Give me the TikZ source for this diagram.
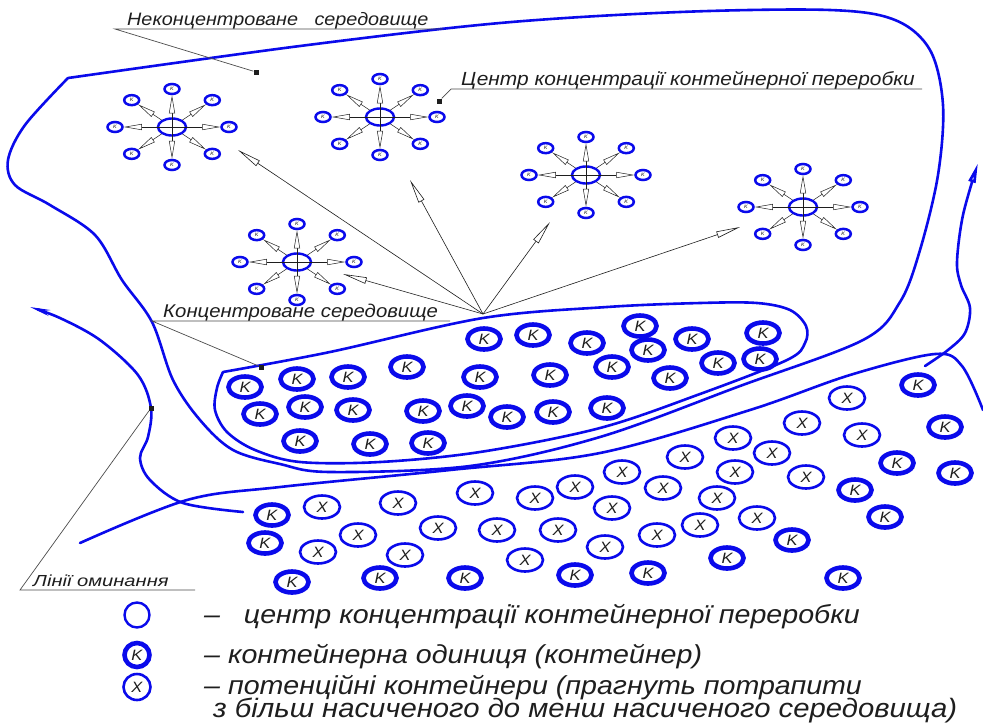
\documentclass[tikz,border=0pt]{standalone}
\usepackage{fontspec}
\setmainfont{Liberation Sans}
\newfontfamily\gost[FakeStretch=1.1]{Liberation Sans}
\newfontfamily\gostwide[FakeStretch=1.26]{Liberation Sans}
\usetikzlibrary{arrows.meta,shapes.geometric}
\definecolor{lineblue}{RGB}{10,10,235}
\definecolor{ink}{RGB}{30,30,30}
\begin{document}
\begin{tikzpicture}[x=1pt,y=-1pt,
  bnd/.style={draw=lineblue, line width=2.6pt, line join=round, line cap=round},
  kcell/.style={ellipse, draw=lineblue, line width=4.6pt, minimum width=33pt, minimum height=21pt, inner sep=0pt,
    font=\gost\itshape\fontsize{15}{15}\selectfont, text=ink},
  xcell/.style={ellipse, draw=lineblue, line width=2.6pt, minimum width=36pt, minimum height=23pt, inner sep=0pt,
    font=\gost\itshape\fontsize{15}{15}\selectfont, text=ink},
  hub/.style={ellipse, draw=lineblue, line width=2.4pt, minimum width=28pt, minimum height=17pt, inner sep=0pt},
  sat/.style={ellipse, draw=lineblue, line width=2.5pt, minimum width=15pt, minimum height=10pt, inner sep=0pt,
    font=\gost\itshape\fontsize{5}{5}\selectfont, text=ink},
  spoke/.style={draw=ink, line width=0.5pt, -{Triangle[open, length=18pt, width=6pt, fill=white]}},
  fan/.style={draw=ink, line width=0.6pt, -{Triangle[open, length=24pt, width=6.5pt, fill=white]}},
  lead/.style={draw=black!70, line width=0.7pt},
  sqmark/.style={rectangle, fill=ink, minimum size=5pt, inner sep=0pt},
  lbl/.style={font=\gost\itshape\fontsize{19}{22}\selectfont, text=ink, inner sep=0pt, anchor=base west},
  legend/.style={font=\gost\itshape\fontsize{26}{28}\selectfont, text=ink, inner sep=0pt, anchor=base west},
  concentrator/.pic={
    \node[hub] (-c) at (0,0) {};
    \foreach \a [count=\i] in {0,45,...,315}
      \node[sat] (-s\i) at ({57*cos(\a)},{38*sin(\a)}) {K};
    \foreach \i in {1,3,5,7} \draw[spoke] (-c.center) -- (-s\i);
    \foreach \i in {2,4,6,8} \draw[spoke] (-c) -- (-s\i);
  }]
\useasboundingbox (0,0) rectangle (983,724);
\fill[white] (0,0) rectangle (983,724);

% outer boundary of the non-concentrated environment
\draw[bnd] plot[smooth, tension=0.55] coordinates {
  (68,78) (300,46) (500,23) (680,12) (830,10) (895,20) (930,50) (943,105) (938,175)
  (920,250) (900,302) (863,340) (740,386) (600,437) (470,466) (330,472) (280,464)
  (233,450) (200,420) (173,380) (152,322) (122,280) (95,235) (50,205) (15,185)
  (8,160) (25,125) (68,78)};

% concentrated environment
\draw[bnd] plot[smooth, tension=0.55] coordinates {
  (223,372) (330,352) (483,318) (607,307) (700,303) (757,303) (790,310) (806,326)
  (805,343) (787,360) (700,394) (600,428) (480,452) (380,462) (300,462) (255,450)
  (227,432) (215,410) (217,388) (223,372)};

% lower boundary line
\draw[bnd] plot[smooth, tension=0.55] coordinates {
  (80,543) (187,500) (280,487) (450,470) (600,453) (750,410) (850,375) (935,354)
  (962,366) (983,410)};

% bypass lines
\coordinate (bypassL) at (151,408);
\draw[bnd, -{Stealth[length=20pt, width=6pt, fill=ink]}] plot[smooth, tension=0.55] coordinates {
  (243,512) (183,503) (150,480) (140,458) (148,437) (151,408) (138,375) (100,340)
  (60,318) (30,307)};
\draw[bnd, -{Triangle[open, length=20pt, width=7pt, fill=white]}] plot[smooth, tension=0.55] coordinates {
  (925,366) (948,350) (965,333) (970,308) (961,285) (957,262) (963,215) (978,163)};

% centres of container processing
\pic (st1) at (172,127) {concentrator};
\pic (st2) at (380,117) {concentrator};
\pic (st3) at (586,175) {concentrator};
\pic (st4) at (803,207) {concentrator};
\pic (st5) at (297,262) {concentrator};

% fan of arrows from the concentrated environment
\coordinate (apex) at (483,314);
\coordinate (f1) at (238,150);
\coordinate (f2) at (343,274);
\coordinate (f3) at (410,180);
\coordinate (f4) at (550,222);
\coordinate (f5) at (740,227);
\foreach \t in {f1,f2,f3,f4,f5} \draw[fan] (apex) -- (\t);

% containers in the concentrated environment
\foreach \x/\y [count=\i] in {484/339, 533/335, 587/343, 640/326, 648/350, 692/339, 763/333,
  760/359, 718/363, 245/387, 297/379, 348/377, 407/367, 480/377, 550/375, 612/367, 670/378,
  260/414, 305/407, 353/410, 423/411, 467/406, 507/417, 553/412, 607/408, 300/441, 370/444, 428/443}
  \node[kcell] (kin\i) at (\x,\y) {K};

% containers and potential containers in the lower environment
\foreach \x/\y [count=\i] in {272/515, 265/543, 292/582, 380/578, 465/578, 575/575, 648/573,
  727/558, 792/540, 843/578, 855/490, 885/517, 897/463, 918/385, 945/427, 955/473}
  \node[kcell] (kout\i) at (\x,\y) {K};
\foreach \x/\y [count=\i] in {322/507, 398/503, 475/493, 535/498, 575/487, 622/472, 612/508,
  358/535, 438/528, 497/530, 558/530, 605/547, 318/552, 405/555, 525/560, 657/535, 663/488,
  685/457, 717/498, 700/525, 733/438, 735/472, 757/518, 772/453, 802/423, 806/477, 847/398, 862/435}
  \node[xcell] (xp\i) at (\x,\y) {X};

% labels with leaders
\node[lbl, font=\gost\itshape\fontsize{18}{22}\selectfont] (t1) at (127,25) {Неконцентроване\ \ \ середовище};
\coordinate (u1a) at (115,29); \coordinate (u1b) at (443,29);
\node[sqmark] (m1) at (256,72) {};
\draw[lead] (u1b) -- (u1a) -- (m1);

\node[lbl] (t2) at (461,85) {Центр концентрації контейнерної переробки};
\coordinate (u2a) at (451,89); \coordinate (u2b) at (922,89);
\node[sqmark] (m2) at (439,101) {};
\draw[lead] (u2b) -- (u2a) -- (m2);

\node[lbl, font=\gost\itshape\fontsize{18.5}{22}\selectfont] (t3) at (163,317) {Концентроване середовище};
\coordinate (u3a) at (152,321); \coordinate (u3b) at (450,321);
\node[sqmark] (m3) at (261,367) {};
\draw[lead] (u3b) -- (u3a) -- (m3);

\node[lbl, font=\gostwide\itshape\fontsize{16}{18}\selectfont] (t4) at (33,586) {Лінії оминання};
\coordinate (u4a) at (20,590); \coordinate (u4b) at (195,590);
\node[sqmark] (m4) at (bypassL) {};
\draw[lead] (u4b) -- (u4a) -- (m4);

% legend
\node[ellipse, draw=lineblue, line width=2.4pt, minimum width=25pt, minimum height=25pt, inner sep=0pt] (lg1) at (137,615) {};
\node[kcell, minimum width=25pt, minimum height=24pt] (lg2) at (137,655) {K};
\node[xcell, minimum width=27pt, minimum height=26pt] (lg3) at (137,687) {X};
\node[legend] (lt1) at (204,623) {–\ \ \ центр концентрації контейнерної переробки};
\node[legend] (lt2) at (204,663) {– контейнерна одиниця (контейнер)};
\node[legend] (lt3) at (204,694) {– потенційні контейнери (прагнуть потрапити};
\node[legend, font=\gost\itshape\fontsize{26.6}{28}\selectfont] (lt4) at (213,717) {з більш насиченого до менш насиченого середовища)};
\end{tikzpicture}
\end{document}
